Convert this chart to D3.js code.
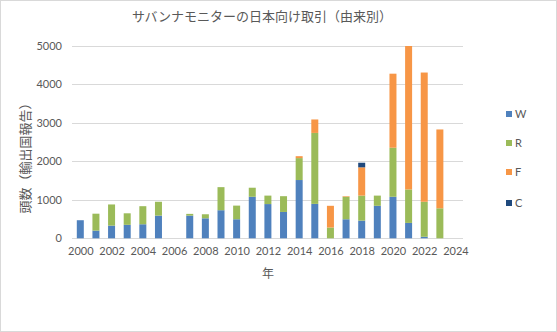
<!DOCTYPE html>
<html><head><meta charset="utf-8">
<script src="https://cdn.jsdelivr.net/npm/d3@7"></script>
<style>
html,body{margin:0;padding:0;background:#fff;}
svg{display:block;}
</style></head>
<body>
<script>
const years = [2000,2001,2002,2003,2004,2005,2006,2007,2008,2009,2010,2011,2012,2013,2014,2015,2016,2017,2018,2019,2020,2021,2022,2023];
const W = [470,200,330,350,365,590,0,590,520,730,495,1080,890,685,1515,895,0,495,460,845,1080,400,40,0];
const R = [0,440,550,300,470,360,0,45,105,600,355,235,220,410,570,1845,280,585,650,265,1275,870,910,780];
const F = [0,0,0,0,0,0,0,0,0,0,0,0,0,0,50,350,565,15,735,0,1925,3730,3360,2050];
const C = [0,0,0,0,0,0,0,0,0,0,0,0,0,0,0,0,0,0,120,0,0,0,0,0];
const seriesNames = ["W","R","F","C"];
const colors = ["#4F81BD","#9BBB59","#F79646","#1F497D"];
const yTicks = [0,1000,2000,3000,4000,5000];
const xTicks = [2000,2002,2004,2006,2008,2010,2012,2014,2016,2018,2020,2022,2024];
const title = "サバンナモニターの日本向け取引（由来別）";
const yTitle = "頭数（輸出国報告）";
const xTitle = "年";

const width = 557, height = 332;
const svg = d3.select("body").append("svg").attr("width", width).attr("height", height);
svg.append("rect").attr("x",0.5).attr("y",0.5).attr("width",width-1).attr("height",height-1)
  .attr("fill","#fff").attr("stroke","#d9d9d9");

const x = d3.scaleLinear().domain([2000,2024]).range([80.3,455.5]);
const y = d3.scaleLinear().domain([0,5000]).range([238.3,46]);
const gridX0 = 72, gridX1 = 463;
const txtColor = "#595959";
const numFont = "Lato, 'Liberation Sans', sans-serif";
const jpFont = "'Noto Sans CJK JP', sans-serif";

// gridlines
svg.append("g").selectAll("line").data(yTicks).join("line")
  .attr("x1",gridX0).attr("x2",gridX1)
  .attr("y1",d=>Math.round(y(d))+0.5).attr("y2",d=>Math.round(y(d))+0.5)
  .attr("stroke","#d9d9d9").attr("stroke-width",1);

// y axis labels
const yAxis = d3.axisLeft(y).tickValues(yTicks).tickSize(0).tickPadding(0).tickFormat(d3.format("d"));
const gy = svg.append("g").attr("transform","translate(62,0)").call(yAxis);
gy.select(".domain").remove();
gy.selectAll("text").attr("fill",txtColor).style("font-family",numFont).style("font-size","11px");

// x axis labels
const xAxis = d3.axisBottom(x).tickValues(xTicks).tickSize(0).tickPadding(0).tickFormat(d3.format("d"));
const gx = svg.append("g").attr("transform","translate(0,247)").call(xAxis);
gx.select(".domain").remove();
gx.selectAll("text").attr("fill",txtColor).style("font-family",numFont).style("font-size","11px");

// bars
const rows = years.map((yr,i)=>({year:yr, W:W[i], R:R[i], F:F[i], C:C[i]}));
const stack = d3.stack().keys(seriesNames)(rows);
const bw = 7;
svg.append("g").selectAll("g").data(stack).join("g")
  .attr("fill",(d,i)=>colors[i])
  .selectAll("rect").data(d=>d).join("rect")
  .attr("x",d=>x(d.data.year)-bw/2)
  .attr("width",bw)
  .attr("y",d=>y(Math.min(d[1],5000)))
  .attr("height",d=>Math.max(0,y(d[0])-y(Math.min(d[1],5000))));

// title
svg.append("text").attr("x",262).attr("y",21).attr("text-anchor","middle")
  .attr("fill",txtColor).style("font-family",jpFont).style("font-size","13px").text(title);

// y title
svg.append("text").attr("transform","translate(30,155) rotate(-90)").attr("text-anchor","middle")
  .attr("fill",txtColor).style("font-family",jpFont).style("font-size","13px").text(yTitle);

// x title
svg.append("text").attr("x",268).attr("y",278).attr("text-anchor","middle")
  .attr("fill",txtColor).style("font-family",jpFont).style("font-size","12px").text(xTitle);

// legend
const legY = [114,143,172,203];
const lg = svg.append("g").selectAll("g").data(seriesNames).join("g")
  .attr("transform",(d,i)=>`translate(506,${legY[i]})`);
lg.append("rect").attr("x",0).attr("y",-3).attr("width",6).attr("height",6).attr("fill",(d,i)=>colors[i]);
lg.append("text").attr("x",9).attr("y",4).attr("fill",txtColor)
  .style("font-family",numFont).style("font-size","11px").text(d=>d);
</script>
</body></html>
